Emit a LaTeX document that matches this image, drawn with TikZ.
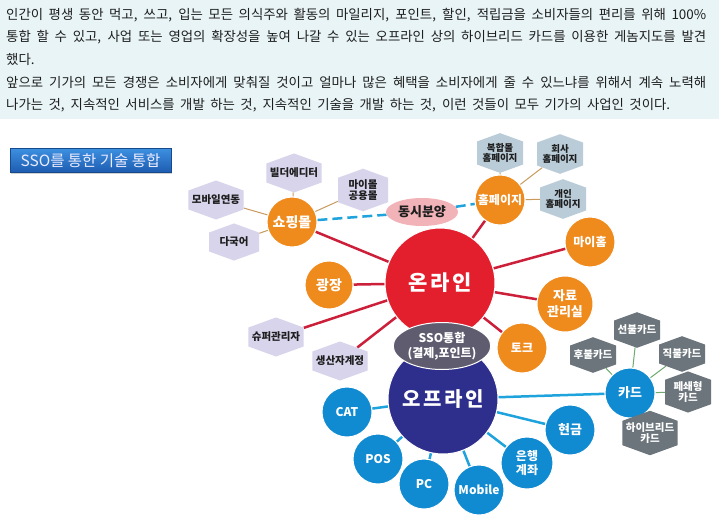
\documentclass[tikz,border=0pt]{standalone}
\usepackage{fontspec}
\setmainfont{Noto Sans CJK KR}
\usetikzlibrary{shapes.geometric,shapes.symbols,backgrounds,shadows}
\definecolor{bandbg}{HTML}{E8F4F6}
\definecolor{txt}{HTML}{1E1E1E}
\definecolor{ored}{HTML}{E31E2D}
\definecolor{onavy}{HTML}{2E2F8C}
\definecolor{oorange}{HTML}{EF8A1C}
\definecolor{oblue}{HTML}{108AD0}
\definecolor{lineblue}{HTML}{1FA3DC}
\definecolor{linered}{HTML}{CC1F3A}
\definecolor{linetan}{HTML}{C99A5E}
\definecolor{linegreen}{HTML}{6EAA6E}
\definecolor{hexlav}{HTML}{D7D4EB}
\definecolor{hexblue}{HTML}{B9CCD8}
\definecolor{hexgray}{HTML}{6C757C}
\definecolor{ssogray}{HTML}{5F5C70}
\definecolor{sspink}{HTML}{F1B3B7}
\definecolor{btntop}{HTML}{3D8FE0}
\definecolor{btnbot}{HTML}{1D5CB0}
\definecolor{btnborder}{HTML}{174A8C}
\tikzset{
  circ/.style={circle, draw=white, line width=1pt, text=white, align=center, inner sep=0pt},
  orangec/.style={circ, fill=oorange, minimum size=50pt, font=\bfseries\fontsize{12}{14}\selectfont},
  bluec/.style={circ, fill=oblue, minimum size=50pt, font=\bfseries\fontsize{12}{14}\selectfont},
  hexn/.style={signal, signal to=north and south, signal pointer angle=140, fill=hexlav, text=txt,
    font=\bfseries\fontsize{10.5}{11}\selectfont, inner xsep=3.5pt, inner ysep=4.5pt, minimum width=50pt, align=center},
  hexb/.style={hexn, fill=hexblue, font=\bfseries\fontsize{9.5}{10}\selectfont, inner ysep=2pt, minimum width=46pt},
  hexg/.style={hexn, fill=hexgray, text=white, font=\bfseries\fontsize{10.5}{10.5}\selectfont, minimum width=46pt},
  redline/.style={draw=linered, line width=2.5pt},
  blueline/.style={draw=lineblue, line width=2.5pt},
  tanline/.style={draw=linetan, line width=1pt},
  greenline/.style={draw=linegreen, line width=1pt},
  dashline/.style={draw=lineblue, line width=2.5pt, dash pattern=on 10pt off 5pt},
  para/.style={anchor=west, inner sep=0pt, text=txt, font=\fontsize{13.4}{16}\selectfont}
}
\begin{document}
\begin{tikzpicture}[x=1pt,y=-1pt]
\useasboundingbox (0,0) rectangle (719,519);
% paragraph
\node[para] (l1) at (6,15) {\makebox[700pt][s]{인간이 평생 동안 먹고, 쓰고, 입는 모든 의식주와 활동의 마일리지, 포인트, 할인, 적립금을 소비자들의 편리를 위해 100\%}};
\node[para] (l2) at (6,37) {\makebox[700pt][s]{통합 할 수 있고, 사업 또는 영업의 확장성을 높여 나갈 수 있는 오프라인 상의 하이브리드 카드를 이용한 게놈지도를 발견}};
\node[para] (l3) at (6,59) {했다.};
\node[para] (l4) at (6,82) {\makebox[700pt][s]{앞으로 기가의 모든 경쟁은 소비자에게 맞춰질 것이고 얼마나 많은 혜택을 소비자에게 줄 수 있느냐를 위해서 계속 노력해}};
\node[para] (l5) at (6,105) {\makebox[664pt][s]{나가는 것, 지속적인 서비스를 개발 하는 것, 지속적인 기술을 개발 하는 것, 이런 것들이 모두 기가의 사업인 것이다.}};
% button
\node[rectangle, minimum width=161pt, minimum height=24pt, top color=btntop, bottom color=btnbot,
  draw=btnborder, line width=0.8pt, text=white!92!blue, drop shadow={shadow xshift=1pt, shadow yshift=-1.5pt, opacity=0.35},
  font=\fontsize{15.5}{16}\selectfont, inner sep=0pt] (btn) at (90.5,160.5) {SSO를 통한 기술 통합};
% central
\node[circ, fill=ored, minimum size=110pt, font=\bfseries\fontsize{21}{22}\selectfont\addfontfeature{LetterSpace=12}] (online) at (440,283) {온라인};
\node[circ, fill=onavy, minimum size=110pt, font=\bfseries\fontsize{20}{22}\selectfont\addfontfeature{LetterSpace=12}] (offline) at (443,399) {오프라인};
\node[ellipse, fill=ssogray, draw=white, line width=1pt, minimum width=91pt, minimum height=47pt, inner sep=0pt, text=white, align=center,
  font=\bfseries\fontsize{12}{15}\selectfont] (sso) at (442,346) {SSO통합\\(결제,포인트)};
% online children
\node[orangec, font=\bfseries\fontsize{14}{15}\selectfont] (shop) at (292,222) {쇼핑몰};
\node[orangec, minimum size=48pt, font=\bfseries\fontsize{14}{15}\selectfont] (plaza) at (329,285) {광장};
\node[orangec] (home) at (500,200) {홈페이지};
\node[orangec] (myhome) at (590,242) {마이홈};
\node[orangec, minimum size=56pt, font=\bfseries\fontsize{13}{16}\selectfont] (data) at (565,304) {자료\\관리실};
\node[orangec] (talk) at (522,348) {토크};
\node[ellipse, fill=sspink, minimum width=72pt, minimum height=28pt, inner sep=0pt, text=txt,
  font=\bfseries\fontsize{13}{14}\selectfont] (simul) at (422,212) {동시분양};
% lavender hexes
\node[hexn] (builder) at (294,173) {빌더에디터};
\node[hexn] (mobile) at (216,200) {모바일연동};
\node[hexn] (multi) at (234,242) {다국어};
\node[hexn, font=\bfseries\fontsize{10.5}{10.5}\selectfont, inner ysep=2pt] (mymall) at (363,190) {마이몰\\공용몰};
\node[hexn] (super) at (276,337) {슈퍼관리자};
\node[hexn] (producer) at (340,361) {생산자계정};
% blue-grey hexes
\node[hexb] (complex) at (500,153) {복합몰\\홈페이지};
\node[hexb] (company) at (560,154) {회사\\홈페이지};
\node[hexb] (personal) at (563,199) {개인\\홈페이지};
% offline children
\node[bluec] (cat) at (347,412) {CAT};
\node[bluec] (pos) at (378,459) {POS};
\node[bluec] (pc) at (424,484) {PC};
\node[bluec] (mob) at (479,490) {Mobile};
\node[bluec, minimum size=52pt] (bank) at (527,463) {은행\\계좌};
\node[bluec, font=\bfseries\fontsize{13}{14}\selectfont] (cash) at (570,430) {현금};
\node[bluec, font=\bfseries\fontsize{13}{14}\selectfont] (card) at (630,393) {카드};
% card hexes
\node[hexg] (prepaid) at (637,330) {선불카드};
\node[hexg] (postpaid) at (593,355) {후불카드};
\node[hexg] (debit) at (682,354) {직불카드};
\node[hexg, inner ysep=2pt] (closed) at (688,392) {페쇄형\\카드};
\node[hexg, inner ysep=2pt] (hybrid) at (650,433) {하이브리드\\카드};
% backgrounds and connectors
\begin{scope}[on background layer]
\fill[white] (0,0) rectangle (719,519);
\fill[bandbg] (0,0) rectangle (719,119);
\foreach \n in {shop,plaza,home,myhome,data,talk,super,producer} \draw[redline] (online) -- (\n);
\foreach \n in {cat,pos,pc,mob,bank,cash,card} \draw[blueline] (offline) -- (\n);
\foreach \n in {builder,mobile,multi,mymall} \draw[tanline] (shop) -- (\n);
\foreach \n in {complex,company,personal} \draw[tanline] (home) -- (\n);
\foreach \n in {prepaid,postpaid,debit,closed,hybrid} \draw[greenline] (card) -- (\n);
\draw[dashline] (shop) -- (simul);
\draw[dashline] (simul) -- (home);
\end{scope}
\end{tikzpicture}
\end{document}
